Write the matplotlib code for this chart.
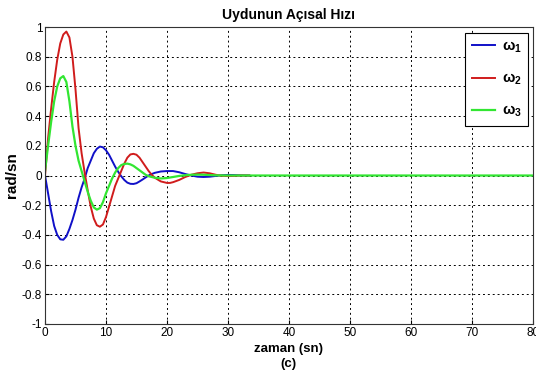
import numpy as np
import matplotlib
matplotlib.use('Agg')
import matplotlib.pyplot as plt

plt.rcParams['font.family'] = ['Liberation Sans', 'DejaVu Sans']
plt.rcParams['mathtext.fontset'] = 'custom'
plt.rcParams['mathtext.rm'] = 'Liberation Sans:bold'
plt.rcParams['mathtext.it'] = 'Liberation Sans:bold'
plt.rcParams['mathtext.bf'] = 'Liberation Sans:bold'

# values
t_w1 = [0, 0.5, 1, 1.5, 2, 2.5, 3, 3.5, 4, 4.5, 5, 5.5, 6, 6.5, 7, 7.5, 8, 8.5, 9, 9.5,
        10, 10.5, 11, 11.5, 12, 12.5, 13, 13.5, 14, 14.5, 15, 15.5, 16, 16.5, 17, 17.5,
        18, 19, 20, 21, 22, 23, 24, 25, 26, 27, 28, 29, 30, 31, 32, 33.5]
w1 = [0, -0.12, -0.24, -0.34, -0.40, -0.43, -0.433, -0.41, -0.36, -0.30, -0.23, -0.15,
      -0.08, -0.02, 0.05, 0.10, 0.15, 0.18, 0.195, 0.19, 0.17, 0.14, 0.10, 0.06, 0.025,
      -0.005, -0.03, -0.048, -0.056, -0.057, -0.052, -0.04, -0.027, -0.013, 0.0, 0.01,
      0.018, 0.027, 0.03, 0.03, 0.022, 0.01, 0.0, -0.008, -0.01, -0.008, -0.003, 0.002,
      0.004, 0.003, 0.001, 0.0]

t_w2 = [0, 0.5, 1, 1.5, 2, 2.5, 3, 3.5, 4, 4.5, 5, 5.5, 6, 6.5, 7, 7.5, 8, 8.5, 9, 9.5,
        10, 10.5, 11, 11.5, 12, 12.5, 13, 13.5, 14, 14.5, 15, 15.5, 16, 16.5, 17, 17.5,
        18, 19, 20, 20.5, 21, 22, 23, 24, 25, 26, 27, 28, 29, 30, 31, 32, 33.5]
w2 = [0, 0.25, 0.45, 0.63, 0.78, 0.89, 0.95, 0.97, 0.93, 0.80, 0.58, 0.32, 0.15, 0.02,
      -0.10, -0.21, -0.29, -0.335, -0.345, -0.33, -0.28, -0.21, -0.14, -0.07, -0.02,
      0.03, 0.08, 0.12, 0.142, 0.146, 0.14, 0.12, 0.09, 0.06, 0.03, 0.005, -0.015,
      -0.04, -0.05, -0.05, -0.045, -0.03, -0.01, 0.005, 0.015, 0.02, 0.015, 0.005,
      -0.002, -0.004, -0.003, 0.0, 0.0]

t_w3 = [0, 0.5, 1, 1.5, 2, 2.5, 3, 3.5, 4, 4.5, 5, 5.5, 6, 6.5, 7, 7.5, 8, 8.5, 9, 9.5,
        10, 10.5, 11, 11.5, 12, 12.5, 13, 13.5, 14, 14.5, 15, 15.5, 16, 16.5, 17, 18,
        19, 20, 21, 22, 23, 24, 25, 26, 27, 28, 30, 80]
w3 = [0.03, 0.20, 0.36, 0.50, 0.60, 0.655, 0.67, 0.63, 0.50, 0.33, 0.20, 0.10, 0.03,
      -0.04, -0.11, -0.17, -0.215, -0.23, -0.22, -0.18, -0.12, -0.07, -0.02, 0.02, 0.05,
      0.07, 0.078, 0.08, 0.075, 0.065, 0.05, 0.035, 0.02, 0.005, -0.005, -0.015, -0.02,
      -0.017, -0.01, -0.003, 0.002, 0.005, 0.006, 0.005, 0.003, 0.001, 0.0, 0.0]

fig = plt.figure(figsize=(5.36, 3.87), dpi=100)
ax = fig.add_axes([0.084, 0.163, 0.910, 0.767])

ax.plot(t_w1, w1, color='#1010c8', lw=1.4, label=r'$\omega_1$')
ax.plot(t_w2, w2, color='#d01c1c', lw=1.4, label=r'$\omega_2$')
ax.plot(t_w3, w3, color='#32e632', lw=1.6, label=r'$\omega_3$')

ax.set_xlim(0, 80)
ax.set_ylim(-1, 1)
ax.set_xticks(np.arange(0, 81, 10))
ax.set_yticks(np.arange(-1, 1.01, 0.2))
ax.set_yticklabels(['-1', '-0.8', '-0.6', '-0.4', '-0.2', '0', '0.2', '0.4', '0.6', '0.8', '1'])
ax.tick_params(direction='in', length=3, labelsize=8.5, pad=2)
ax.grid(True, color='black', linestyle=(0, (2, 3)), linewidth=0.7)
for s in ax.spines.values():
    s.set_linewidth(0.8)
    s.set_color('#333333')

ax.set_title('Uydunun Açısal Hızı', fontsize=10, fontweight='bold', pad=6)
ax.set_xlabel('zaman (sn)\n(c)', fontsize=9.5, fontweight='bold', labelpad=3,
              linespacing=1.3)
ax.set_ylabel('rad/sn', fontsize=11, fontweight='bold', labelpad=2)

leg = ax.legend(loc='upper right', fontsize=10.5, handlelength=1.6, handletextpad=0.45,
                labelspacing=1.15, borderpad=0.45, borderaxespad=0, fancybox=False,
                framealpha=1, edgecolor='black', bbox_to_anchor=(0.990, 0.98))
leg.get_frame().set_linewidth(0.8)

fig.savefig('out.png', dpi=100)
